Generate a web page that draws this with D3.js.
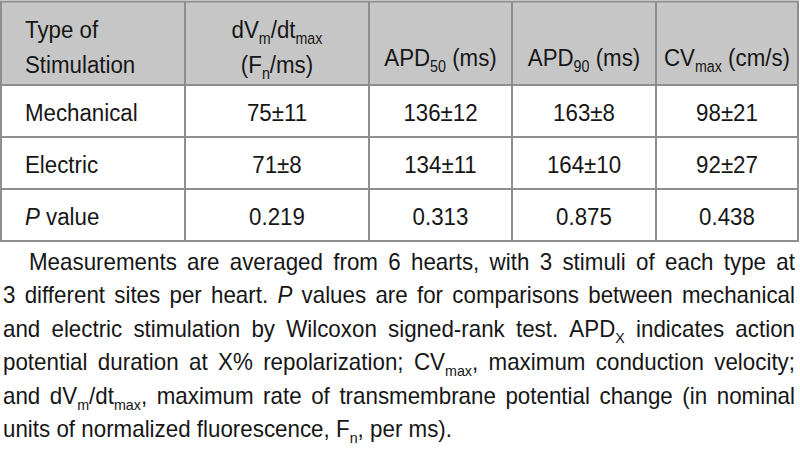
<!DOCTYPE html>
<html><head><meta charset="utf-8">
<script src="https://cdn.jsdelivr.net/npm/d3@7/dist/d3.min.js"></script>
<style>
body{margin:0;background:#fff}
svg{display:block}
text{font-family:"Liberation Sans",Arial,Helvetica,sans-serif;fill:#161616}
</style>
</head><body>
<svg id="chart" width="800" height="452"></svg>
<script>
// ---------------- DATA ----------------
// markup: _{...} = subscript, *...* = italic
const columnHeaders = [
  ["Type of", "Stimulation"],
  ["dV_{m}/dt_{max}", "(F_{n}/ms)"],
  ["APD_{50} (ms)"],
  ["APD_{90} (ms)"],
  ["CV_{max} (cm/s)"]
];
const stimulationTypes = ["Mechanical", "Electric"];
const dVdtMean  = [75, 71];
const dVdtSD    = [11, 8];
const apd50Mean = [136, 134];
const apd50SD   = [12, 11];
const apd90Mean = [163, 164];
const apd90SD   = [8, 10];
const cvMean    = [98, 92];
const cvSD      = [21, 27];
const pRowLabel = "*P* value";
const pValues   = ["0.219", "0.313", "0.875", "0.438"];
const footnoteLines = [
  "Measurements are averaged from 6 hearts, with 3 stimuli of each type at",
  "3 different sites per heart. *P* values are for comparisons between mechanical",
  "and electric stimulation by Wilcoxon signed-rank test. APD_{X} indicates action",
  "potential duration at X% repolarization; CV_{max}, maximum conduction velocity;",
  "and dV_{m}/dt_{max}, maximum rate of transmembrane potential change (in nominal",
  "units of normalized fluorescence, F_{n}, per ms)."
];

// ---------------- LAYOUT ----------------
const colWeights = [184, 184, 143, 144, 142];
const tableLeft = 1, tableRight = 798;
const tableTop = 1.5, headerH = 83.5, rowH = 52;
const tableFont = 24.5, tableSX = 0.91;
const noteFont = 23, noteSX = 0.972;
const noteLeft = 3, noteIndent = 29, noteRight = 795;
const noteBase0 = 270, noteLead = 33.4;
const borderColor = "#8e8e8e", headerFill = "#c6c6c6";

const svg = d3.select("#chart");

// Table body rows built from the arrays
const fmt = (m, s) => m + "\u00b1" + s;
const bodyRows = stimulationTypes.map((t, i) => [
  t, fmt(dVdtMean[i], dVdtSD[i]), fmt(apd50Mean[i], apd50SD[i]),
  fmt(apd90Mean[i], apd90SD[i]), fmt(cvMean[i], cvSD[i])
]);
bodyRows.push([pRowLabel, ...pValues]);

// scales
const colEdges = [0, ...d3.cumsum(colWeights)];
const x = d3.scaleLinear().domain([0, d3.sum(colWeights)]).range([tableLeft, tableRight]);
const rowEdges = [0, headerH, ...bodyRows.map((_, i) => headerH + rowH * (i + 1))];
const y = d3.scaleLinear().domain([0, 1]).range([tableTop, tableTop + 1]);

// parse markup into segments
function parse(str) {
  const parts = str.split(/(_\{[^}]*\}|\*[^*]*\*)/).filter(s => s.length);
  return parts.map(p => {
    if (p.startsWith("_{")) return {t: p.slice(2, -1), k: "s"};
    if (p.startsWith("*")) return {t: p.slice(1, -1), k: "i"};
    return {t: p, k: "n"};
  });
}

// draw segments into a text element; returns scaled width
function drawText(g, segs, fs, sx, px, py) {
  const txt = g.append("text")
    .attr("font-size", fs)
    .attr("transform", `translate(${px},${py}) scale(${sx},1)`)
    .attr("xml:space", "preserve")
    .style("white-space", "pre");
  let shifted = false;
  segs.forEach(s => {
    const ts = txt.append("tspan").text(s.t);
    if (s.k === "s") {
      ts.attr("font-size", fs * 0.64);
      if (!shifted) { ts.attr("dy", fs * 0.26); shifted = true; }
    } else {
      if (shifted) { ts.attr("dy", -fs * 0.26); shifted = false; }
      if (s.k === "i") ts.attr("font-style", "italic");
    }
  });
  return txt;
}
function width(txt, sx) { return txt.node().getComputedTextLength() * sx; }

// header fill
svg.append("rect")
  .attr("x", x(0)).attr("y", y(rowEdges[0]))
  .attr("width", x(colEdges[5]) - x(0)).attr("height", y(rowEdges[1]) - y(rowEdges[0]))
  .attr("fill", headerFill);

const gText = svg.append("g");

// header text
columnHeaders.forEach((lines, c) => {
  const baselines = lines.length === 2 ? [y(36.5), y(71.5)] : [y(64.5)];
  lines.forEach((ln, li) => {
    const t = drawText(gText, parse(ln), tableFont, tableSX, 0, baselines[li]);
    const w = width(t, tableSX);
    const px = c === 0 ? x(colEdges[0]) + 24 : (x(colEdges[c]) + x(colEdges[c + 1])) / 2 - w / 2;
    t.attr("transform", `translate(${px},${baselines[li]}) scale(${tableSX},1)`);
  });
});

// body text
bodyRows.forEach((row, r) => {
  const base = y((rowEdges[r + 1] + rowEdges[r + 2]) / 2) + 9.5;
  row.forEach((cell, c) => {
    const t = drawText(gText, parse(cell), tableFont, tableSX, 0, base);
    const w = width(t, tableSX);
    const px = c === 0 ? x(colEdges[0]) + 24 : (x(colEdges[c]) + x(colEdges[c + 1])) / 2 - w / 2;
    t.attr("transform", `translate(${px},${base}) scale(${tableSX},1)`);
  });
});

// grid lines
const gGrid = svg.append("g").attr("stroke", borderColor).attr("stroke-width", 2);
colEdges.forEach(e => {
  gGrid.append("line").attr("x1", x(e)).attr("x2", x(e))
    .attr("y1", y(rowEdges[0])).attr("y2", y(rowEdges[rowEdges.length - 1]));
});
rowEdges.forEach(e => {
  gGrid.append("line").attr("x1", x(0) - 1).attr("x2", x(colEdges[5]) + 1)
    .attr("y1", y(e)).attr("y2", y(e));
});

// footnote (justified)
const gNote = svg.append("g");
footnoteLines.forEach((line, i) => {
  const base = noteBase0 + i * noteLead;
  const words = line.split(" ");
  const items = words.map(wd => {
    const t = drawText(gNote, parse(wd), noteFont, noteSX, 0, base);
    return {t, w: width(t, noteSX)};
  });
  const start = i === 0 ? noteIndent : noteLeft;
  const total = d3.sum(items, d => d.w);
  const last = i === footnoteLines.length - 1;
  const gap = last ? 0.278 * noteFont * noteSX : (noteRight - start - total) / (items.length - 1);
  let cx = start;
  items.forEach(it => {
    it.t.attr("transform", `translate(${cx},${base}) scale(${noteSX},1)`);
    cx += it.w + gap;
  });
});
</script>
</body></html>
